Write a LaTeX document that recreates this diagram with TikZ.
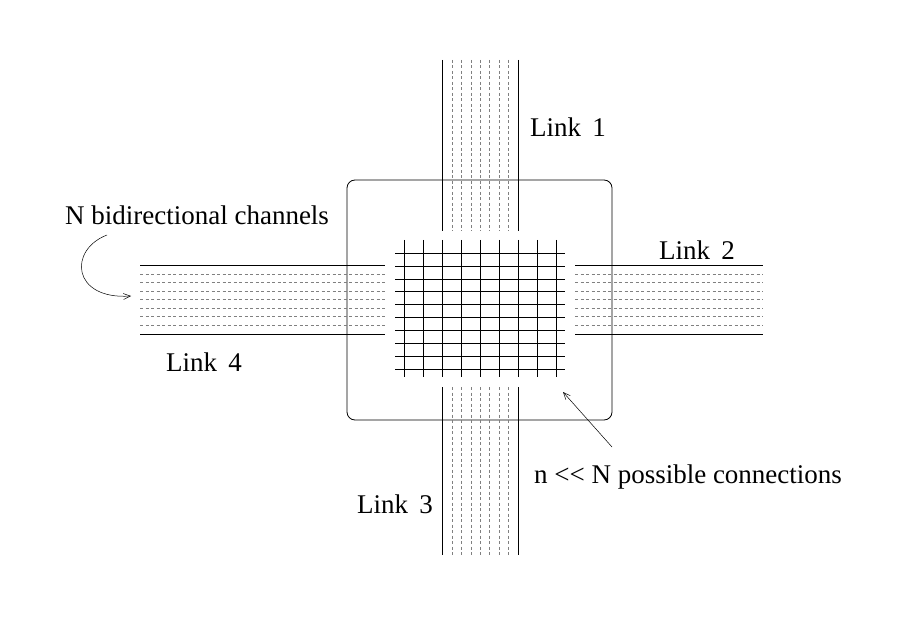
\documentclass[tikz,border=0pt]{standalone}
\usepackage{fontspec}
\setmainfont{Liberation Serif}
\usetikzlibrary{arrows.meta}
\tikzset{
  wire/.style={line width=0.8pt},
  chan/.style={dashed, gray, line width=0.5pt, dash pattern=on 3pt off 2.5pt},
  lbl/.style={font=\fontsize{27}{30}\selectfont, inner sep=0pt}
}
\begin{document}
\begin{tikzpicture}[x=1pt,y=-1pt]
  \useasboundingbox (0,0) rectangle (909,617);
  % switch box
  \draw[wire, rounded corners=8pt] (347,180) rectangle (612,420);
  % vertical links 1 and 3
  \foreach \y/\yy in {60/231, 387/555} {
    \foreach \x in {452,461.5,471,480,489.5,499,508.5}
      \draw[chan] (\x,\y) -- (\x,\yy);
    \draw[wire] (442,\y) -- (442,\yy);
    \draw[wire] (518,\y) -- (518,\yy);
  }
  % horizontal links 4 and 2
  \foreach \x/\xx in {140/385, 575/763} {
    \foreach \y in {274,282.5,291,299.5,308,316.5,325}
      \draw[chan] (\x,\y) -- (\xx,\y);
    \draw[wire] (\x,265) -- (\xx,265);
    \draw[wire] (\x,334) -- (\xx,334);
  }
  % crossbar
  \foreach \x in {404,423,442,461,480,499,518,537,556}
    \draw[wire] (\x,240) -- (\x,377);
  \foreach \y in {253,266,279,291.5,304,317,330,343,356,369}
    \draw[wire] (395,\y) -- (565,\y);
  % labels
  \node[lbl] (l1) at (568,127) {Link\, 1};
  \node[lbl] (l2) at (697,250) {Link\, 2};
  \node[lbl] (l3) at (395,504) {Link\, 3};
  \node[lbl] (l4) at (204,362) {Link\, 4};
  \node[lbl] (chn) at (197,215) {N bidirectional channels};
  \node[lbl] (con) at (688,477) {n {<}{<} N possible connections};
  \coordinate (grid) at (563,392);
  \coordinate (tip) at (131,296);
  \draw[-{Straight Barb[length=7pt,width=6pt]}, line width=0.5pt] (612,447) -- (grid);
  \draw[-{Straight Barb[length=7pt,width=6pt]}, line width=0.5pt]
    (107,235) .. controls (68,250) and (72,300) .. (tip);
\end{tikzpicture}
\end{document}
